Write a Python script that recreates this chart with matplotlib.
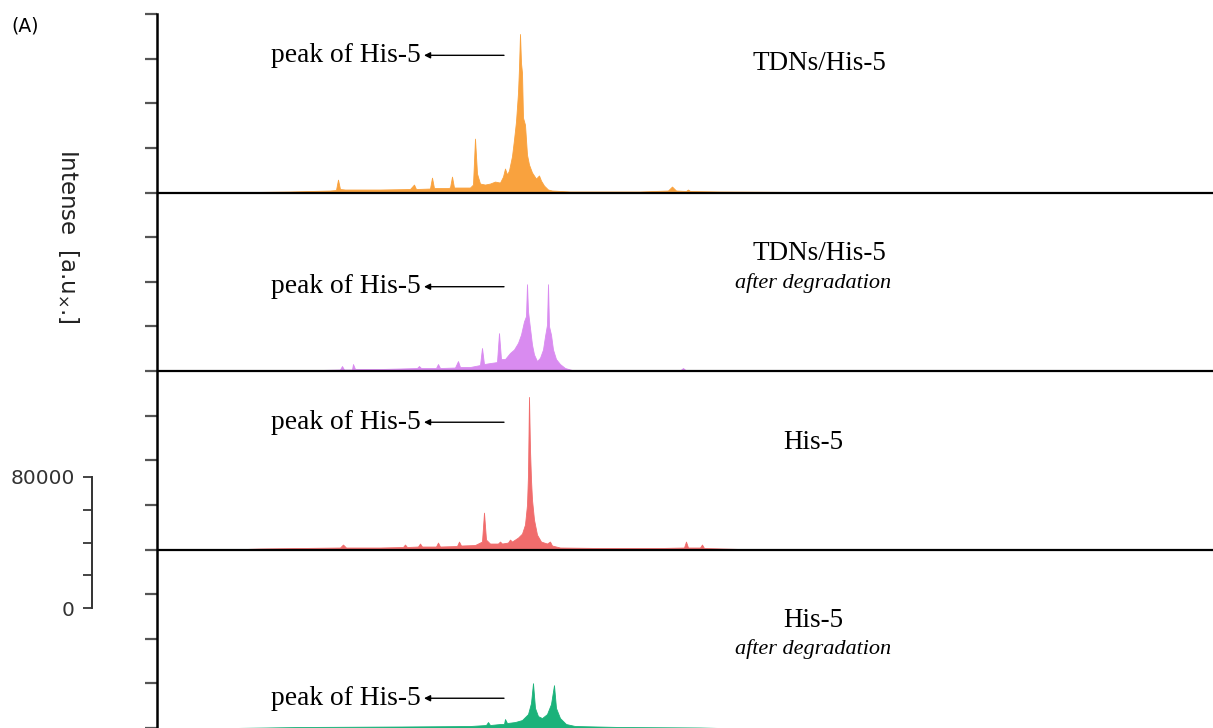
import numpy as np
import matplotlib
matplotlib.use('Agg')
import matplotlib.pyplot as plt

# Spectra: channel position and intensity (x1000 a.u.)
orange_x = [230, 255, 290, 330, 336, 338, 340, 345, 380, 410, 414, 416, 430, 432, 434,
            448, 450, 452, 454, 470, 473, 475, 477, 480, 485, 490, 495, 500, 503, 505,
            507, 509, 512, 514, 516, 518, 519, 520, 521, 522, 523, 525, 527, 529, 532,
            536, 539, 541, 544, 548, 552, 570, 640, 668, 672, 676, 686, 688, 690, 720,
            800, 830]
orange_y = [0, 0.3, 0.6, 1.2, 1.5, 7.8, 2.1, 1.8, 1.8, 2.1, 4.8, 2.1, 2.4, 9.0, 2.7,
            2.7, 3.0, 9.6, 3.0, 3.0, 4.8, 32.6, 11.5, 5.4, 4.8, 5.4, 6.6, 6.0, 9.6, 14.5,
            10.9, 13.3, 22.0, 32.0, 43.0, 60.3, 75.4, 95.9, 78.4, 72.4, 45.3, 41.0, 22.9, 16.9, 12.1,
            8.4, 10.3, 7.2, 4.2, 1.8, 1.2, 0.6, 0.6, 1.2, 3.6, 1.2, 0.9, 1.8, 0.9, 0.6,
            0.3, 0]

violet_x = [300, 320, 340, 342, 344, 352, 353, 355, 380, 400, 417, 419, 421, 436, 438,
            440, 455, 458, 460, 470, 480, 482, 484, 490, 497, 499, 501, 505, 510, 514,
            518, 521, 524, 526, 527, 528, 530, 532, 534, 537, 540, 543, 545, 547, 548,
            549, 551, 553, 556, 560, 565, 572, 620, 680, 683, 686, 720]
violet_y = [0, 0.6, 0.9, 3.0, 0.9, 0.9, 4.2, 1.2, 1.2, 1.5, 1.8, 3.0, 1.8, 1.8, 4.2,
            1.8, 2.1, 6.0, 2.4, 2.4, 3.6, 13.9, 4.2, 4.8, 5.4, 22.9, 7.2, 7.2, 10.9, 13.0,
            17.0, 22.0, 30.0, 33.2, 52.5, 36.2, 26.0, 16.0, 10.0, 6.0, 8.0, 13.0, 21.0, 28.0, 52.5,
            27.1, 22.0, 13.0, 7.2, 4.2, 1.8, 0.6, 0.3, 0.3, 1.8, 0.3, 0]

red_x = [230, 260, 300, 340, 343, 346, 380, 403, 405, 407, 418, 420, 422, 436, 438,
         440, 457, 459, 461, 475, 482, 484, 486, 490, 498, 500, 502, 508, 510, 512,
         518, 522, 525, 527, 528, 529, 530, 531, 532, 534, 537, 541, 547, 550, 552,
         560, 600, 660, 684, 686, 688, 700, 702, 704, 740, 800]
red_y = [0, 0.6, 0.9, 1.2, 3.0, 1.2, 1.2, 1.5, 3.0, 1.5, 1.8, 3.6, 1.8, 1.8, 4.2,
         1.8, 2.1, 4.8, 2.4, 2.7, 4.8, 22.3, 6.0, 3.6, 3.6, 4.8, 3.6, 4.2, 6.0, 4.8,
         7.2, 9.6, 15.1, 27.1, 45.2, 92.3, 60.3, 42.2, 30.2, 18.1, 9.0, 4.8, 3.6, 4.8, 2.4,
         1.2, 0.9, 0.9, 1.2, 4.8, 1.2, 1.2, 3.0, 0.9, 0.3, 0]

green_x = [233, 300, 400, 470, 486, 488, 490, 500, 504, 505, 507, 515, 522, 528, 531,
           533, 535, 538, 542, 547, 551, 554, 556, 560, 566, 575, 620, 700, 720]
green_y = [0, 0.6, 0.9, 1.2, 1.8, 3.6, 1.8, 2.4, 2.4, 5.4, 3.0, 3.6, 4.8, 8.4, 15.1,
           27.1, 12.1, 7.2, 6.0, 8.4, 14.5, 25.9, 12.1, 6.0, 2.4, 1.2, 0.6, 0.3, 0]

colors = ['#F9A23E', '#D98BF0', '#F06C6C', '#1BB27A']
titles = ['TDNs/His-5', 'TDNs/His-5', 'His-5', 'His-5']
subtitles = ['', 'after degradation', '', 'after degradation']

step = 108  # panel height (x1000 a.u.), 4 ticks of 27
spectra = [(orange_x, orange_y), (violet_x, violet_y), (red_x, red_y), (green_x, green_y)]

fig = plt.figure(figsize=(12.13, 7.28), dpi=100)
ax = fig.add_axes([157 / 1213, 0, 1 - 157 / 1213, 714 / 728])

for i, (xs, ys) in enumerate(spectra):
    base = (3 - i) * step
    ax.fill_between(xs, base, base + np.array(ys), color=colors[i], lw=0.6,
                    edgecolor=colors[i], zorder=2)
    if i < 3:
        ax.axhline(base, color='black', lw=1.6, zorder=3)

ax.set_xlim(157, 1213)
ax.set_ylim(0, 4 * step)
ax.set_yticks(np.arange(0, 4 * step + 1, 27))
ax.set_yticklabels([])
ax.set_xticks([])
ax.tick_params(axis='y', length=8.5, width=1.6, color='#555555')
for s in ['top', 'right', 'bottom']:
    ax.spines[s].set_visible(False)
ax.spines['left'].set_linewidth(1.8)

# annotations, offsets above each baseline
arrow_y = [83, 51, 77, 18]
title_y = [78, 71, 65, 65]
sub_y = [0, 53, 0, 48]
serif = 'Liberation Serif'
for i in range(4):
    base = (3 - i) * step
    ax.annotate('', xy=(424, base + arrow_y[i]), xytext=(504, base + arrow_y[i]),
                arrowprops=dict(arrowstyle='-|>', color='black', lw=1.0, mutation_scale=9,
                                shrinkA=0, shrinkB=0))
    ax.text(421, base + arrow_y[i], 'peak of His-5', ha='right', va='center',
            family=serif, fontsize=19.8)
    ax.text(819 if i < 2 else 813, base + title_y[i], titles[i], ha='center', va='center',
            family=serif, fontsize=19.5)
    if subtitles[i]:
        ax.text(813, base + sub_y[i], subtitles[i], ha='center', va='center',
                family=serif, fontsize=16, style='italic')

# scale bar
sb = fig.add_axes([92 / 1213, 120 / 728, 0.0005, 131 / 728])
sb.set_ylim(0, 80000)
sb.set_yticks([0, 20000, 40000, 60000, 80000])
sb.set_yticklabels(['0', '', '', '', '80000'])
sb.set_xticks([])
sb.tick_params(axis='y', length=6.5, width=1.4, color='#444444', labelsize=14.5, pad=6,
               labelcolor='#333333')
for s in ['top', 'right', 'bottom']:
    sb.spines[s].set_visible(False)
sb.spines['left'].set_linewidth(1.4)
sb.spines['left'].set_color('#333333')
sb.patch.set_visible(False)

fig.text(68 / 1213, 1 - 236 / 728, 'Intense  [a.u$_{\\times}$.]', rotation=270,
         ha='center', va='center', fontsize=16.5, color='#222222')
fig.text(11 / 1213, 1 - 26 / 728, '(A)', ha='left', va='center', fontsize=13.5)

fig.savefig('out.png', dpi=100)
